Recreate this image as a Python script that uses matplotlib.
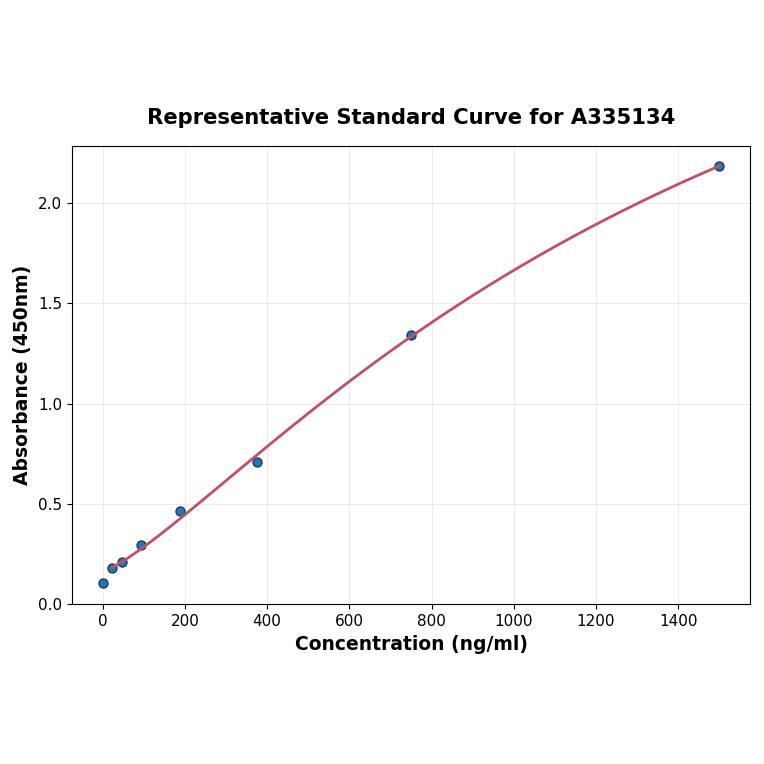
import numpy as np
import matplotlib
matplotlib.use("Agg")
import matplotlib.pyplot as plt

# standard points
conc = [0, 23.4, 46.9, 93.75, 187.5, 375, 750, 1500]
absorb = [0.105, 0.18, 0.21, 0.294, 0.467, 0.708, 1.342, 2.185]

x = np.array(conc)
y = np.array(absorb)


def fit_4pl(x, y, w):
    # grid over slope b and midpoint c, weighted least squares for a and d
    best = None
    sw = np.sqrt(w)
    for b in np.linspace(0.3, 4.0, 149):
        for c in np.logspace(2, 6, 400):
            g = 1.0 / (1.0 + (x / c) ** b)
            A = np.column_stack([g, 1 - g])
            p, *_ = np.linalg.lstsq(A * sw[:, None], y * sw, rcond=None)
            err = np.sum(w * (A @ p - y) ** 2)
            if best is None or err < best[0]:
                best = (err, p[0], b, c, p[1])
    return best[1:]


a, b, c, d = fit_4pl(x, y, y)
xfit = np.linspace(conc[1], conc[-1], 300)
yfit = d + (a - d) / (1 + (xfit / c) ** b)

fig, ax = plt.subplots(figsize=(7.64, 7.64), dpi=100)
fig.subplots_adjust(left=0.094, right=0.982, top=0.809, bottom=0.209)

ax.scatter(conc, absorb, s=42, color='#1f77b4', edgecolor='#1a3d5c', linewidth=1, zorder=3)
ax.plot(xfit, yfit, color='#c05068', linewidth=2, zorder=4)

ax.set_xlim(-75, 1575)
ax.set_ylim(0, 2.285)
ax.set_yticks([0.0, 0.5, 1.0, 1.5, 2.0])
ax.grid(True, color='#e6e6e6', linewidth=0.6)
ax.set_axisbelow(True)
ax.tick_params(labelsize=11)

ax.set_title('Representative Standard Curve for A335134', fontsize=15.2, fontweight='bold', pad=16)
ax.set_xlabel('Concentration (ng/ml)', fontsize=13.5, fontweight='bold', labelpad=4)
ax.set_ylabel('Absorbance (450nm)', fontsize=13.5, fontweight='bold')

plt.savefig('out.png', dpi=100)
